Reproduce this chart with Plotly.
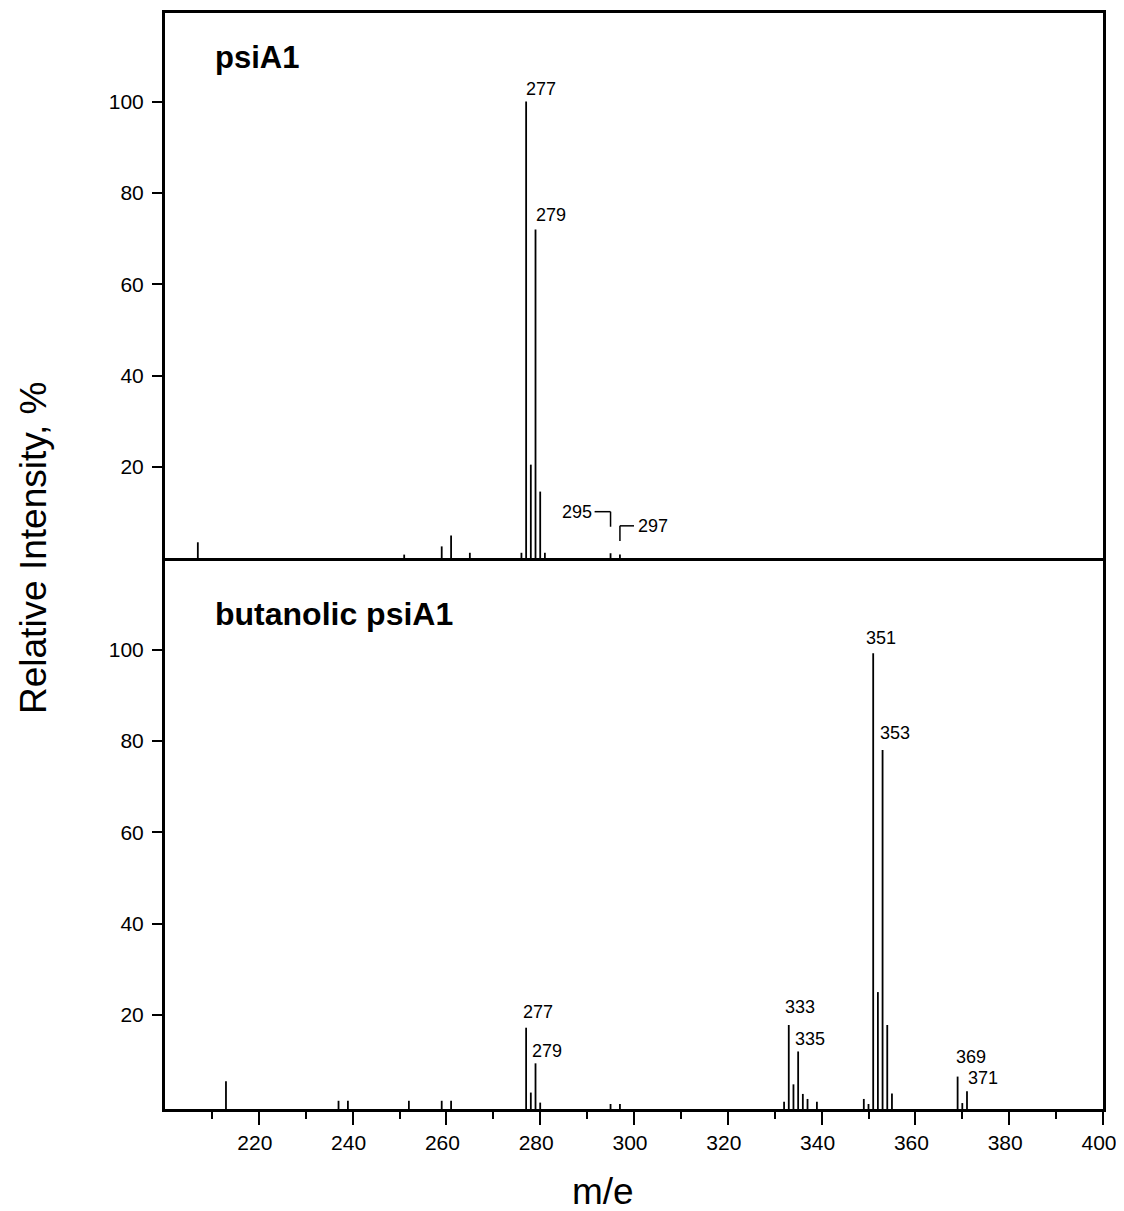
import plotly.graph_objects as go
from plotly.subplots import make_subplots

# ---------------- data ----------------
top_mass = [207, 251, 259, 261, 265, 276, 277, 278, 279, 280, 281, 295, 297]
top_int = [3.5, 0.8, 2.6, 5.0, 1.2, 1.2, 100, 20.5, 72.0, 14.6, 1.2, 1.1, 0.8]
top_labels = [277, 279]

bot_mass = [213, 237, 239, 252, 259, 261, 277, 278, 279, 280, 295, 297,
            332, 333, 334, 335, 336, 337, 339, 349, 350, 351, 352, 353, 354, 355,
            369, 370, 371]
bot_int = [5.5, 1.2, 1.2, 1.2, 1.2, 1.2, 17.2, 3.0, 9.4, 0.8, 0.5, 0.5,
           1.0, 17.8, 4.8, 12.0, 2.7, 1.6, 1.0, 1.6, 0.5, 99.2, 25.0, 78.0, 17.8, 2.8,
           6.5, 0.7, 3.3]
bot_labels = [277, 279, 333, 335, 351, 353, 369, 371]

bracket_labels = [295, 297]  # labelled with bracket leaders in the top panel

x_ticks = [220, 240, 260, 280, 300, 320, 340, 360, 380, 400]
x_minor = [210, 230, 250, 270, 290, 310, 330, 350, 370, 390]
y_ticks = [20, 40, 60, 80, 100]

panel_titles = ["psiA1", "butanolic psiA1"]
x_title = "m/e"
y_title = "Relative Intensity, %"

# ---------------- style ----------------
FONT = "Liberation Sans, Arial, Helvetica, sans-serif"
YMIN, YMAX = -0.6, 119.4
XMIN, XMAX = 200, 400
LW = 3
LABEL_SIZE = 18
# pixel offsets of each peak label (x, y) relative to its stem tip
top_label_off = {277: (0, 13), 279: (0, 14)}
bot_label_off = {277: (-3, 16), 279: (-4, 12), 333: (-4, 18), 335: (-3, 12),
                 351: (-7, 15), 353: (-3, 17), 369: (-2, 20), 371: (1, 13)}

fig = make_subplots(rows=2, cols=1, shared_xaxes=False, vertical_spacing=0.0)


def stems(masses, ints):
    xs, ys = [], []
    for m, v in zip(masses, ints):
        xs += [m, m, None]
        ys += [YMIN, v, None]
    return xs, ys


for row, (ms, vs) in enumerate([(top_mass, top_int), (bot_mass, bot_int)], start=1):
    xs, ys = stems(ms, vs)
    fig.add_trace(go.Scatter(x=xs, y=ys, mode="lines",
                             line=dict(color="black", width=1.8),
                             hoverinfo="skip", showlegend=False),
                  row=row, col=1)

# peak labels
lookup_top = dict(zip(top_mass, top_int))
lookup_bot = dict(zip(bot_mass, bot_int))
for m in top_labels:
    dx, dy = top_label_off[m]
    fig.add_annotation(x=m, y=lookup_top[m], xref="x", yref="y", text=str(m),
                       showarrow=False, xanchor="left", yanchor="middle",
                       xshift=dx - 2, yshift=dy,
                       font=dict(family=FONT, size=LABEL_SIZE, color="black"))
for m in bot_labels:
    dx, dy = bot_label_off[m]
    fig.add_annotation(x=m, y=lookup_bot[m], xref="x2", yref="y2", text=str(m),
                       showarrow=False, xanchor="left", yanchor="middle",
                       xshift=dx - 2, yshift=dy,
                       font=dict(family=FONT, size=LABEL_SIZE, color="black"))

# bracket leaders for 295 / 297
m1, m2 = bracket_labels
v1, v2 = lookup_top[m1], lookup_top[m2]
fig.add_shape(type="line", xref="x", yref="y", x0=m1 - 3.4, x1=m1, y0=v1 + 9.1, y1=v1 + 9.1,
              line=dict(color="black", width=1.5))
fig.add_shape(type="line", xref="x", yref="y", x0=m1, x1=m1, y0=v1 + 9.1, y1=v1 + 5.8,
              line=dict(color="black", width=1.5))
fig.add_annotation(x=m1 - 3.6, y=v1 + 9.1, xref="x", yref="y", text=str(m1), showarrow=False,
                   xanchor="right", yanchor="middle",
                   font=dict(family=FONT, size=LABEL_SIZE, color="black"))
fig.add_shape(type="line", xref="x", yref="y", x0=m2, x1=m2, y0=v2 + 3.0, y1=v2 + 6.3,
              line=dict(color="black", width=1.5))
fig.add_shape(type="line", xref="x", yref="y", x0=m2, x1=m2 + 3.0, y0=v2 + 6.3, y1=v2 + 6.3,
              line=dict(color="black", width=1.5))
fig.add_annotation(x=m2 + 3.4, y=v2 + 6.3, xref="x", yref="y", text=str(m2), showarrow=False,
                   xanchor="left", yanchor="middle",
                   font=dict(family=FONT, size=LABEL_SIZE, color="black"))

# panel titles
title_shift = [-25, -33]
title_size = [31, 32]
for i, t in enumerate(panel_titles):
    fig.add_annotation(x=0, y=1 if i == 0 else 0.5, xref="paper", yref="paper", text=t,
                       showarrow=False, xanchor="left", yanchor="top",
                       xshift=48, yshift=title_shift[i],
                       font=dict(family=FONT, size=title_size[i], color="black", weight="bold"))

# axis titles
fig.add_annotation(x=0, y=0.5, xref="paper", yref="paper", text=y_title, showarrow=False,
                   textangle=-90, xanchor="center", yanchor="middle", xshift=-132, yshift=13,
                   font=dict(family=FONT, size=37, color="black"))
fig.add_annotation(x=0.5, y=0, xref="paper", yref="paper", text=x_title, showarrow=False,
                   xanchor="center", yanchor="middle", xshift=-31, yshift=-82,
                   font=dict(family=FONT, size=37, color="black"))

# top panel: only the top border from its x axis; bottom panel draws the divider + bottom
fig.update_xaxes(range=[XMIN, XMAX], showline=True, linecolor="black", linewidth=LW,
                 mirror=False, side="top", showgrid=False, zeroline=False,
                 showticklabels=False, ticks="", row=1, col=1)
fig.update_xaxes(range=[XMIN, XMAX], showline=True, linecolor="black", linewidth=LW,
                 mirror=True, showgrid=False, zeroline=False,
                 tickvals=x_ticks, ticktext=[str(v) for v in x_ticks],
                 ticks="outside", ticklen=13, tickwidth=1.5, tickcolor="black",
                 minor=dict(tickvals=x_minor, ticks="outside", ticklen=7, tickwidth=1.5,
                            tickcolor="black"),
                 tickfont=dict(family=FONT, size=21, color="black"),
                 ticklabelshift=-4,
                 row=2, col=1)
for r in (1, 2):
    fig.update_yaxes(range=[YMIN, YMAX], showline=True, linecolor="black", linewidth=LW,
                     mirror=True, showgrid=False, zeroline=False,
                     tickvals=y_ticks, ticks="outside", ticklen=10, tickwidth=1.5,
                     tickcolor="black", tickfont=dict(family=FONT, size=21, color="black"),
                     ticklabelstandoff=4,
                     row=r, col=1)

# the page body keeps its 8px default margin, so the plot area is placed 8px up/left
fig.update_layout(width=1116, height=1203, plot_bgcolor="white", paper_bgcolor="white",
                  margin=dict(l=157, r=21, t=5, b=102), showlegend=False)

fig.write_html("out.html",
               config={"responsive": False, "displayModeBar": False},
               post_script="document.documentElement.style.overflow='hidden';")
